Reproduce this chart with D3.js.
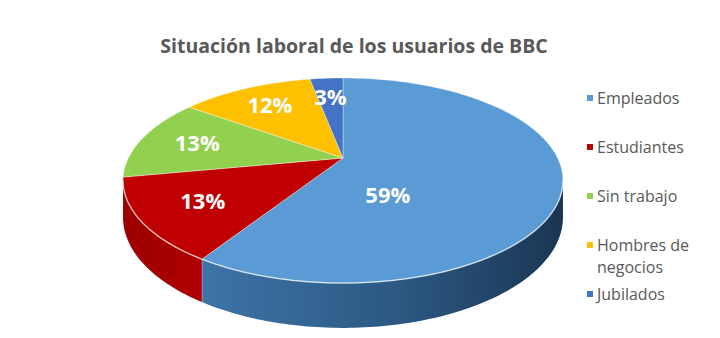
<!DOCTYPE html>
<html>
<head>
<meta charset="utf-8">
<script src="https://cdn.jsdelivr.net/npm/d3@7"></script>
<style>
  body { margin: 0; background: #fff; }
  svg text { font-family: "Open Sans", "DejaVu Sans", sans-serif; }
</style>
</head>
<body>
<svg id="chart"></svg>
<script>
// situacion laboral - pie 3d estilo excel

const categories = ['Empleados', 'Estudiantes', 'Sin trabajo', 'Hombres de negocios', 'Jubilados'];
const values = [59, 13, 13, 12, 3];
const labels = ['59%', '13%', '13%', '12%', '3%'];
const topColors = ['#5B9BD5', '#C00000', '#92D050', '#FFC000', '#4472C4'];
const title = 'Situación laboral de los usuarios de BBC';

const width = 720;
const height = 338;

// geometria del disco en perspectiva
const cx = 343, cy = 158;
const R = 214.6, S = 97.6, k = 0.2195, H = 35;
const toRad = Math.PI / 180;

function project(a, r, h) {
    const u = r * Math.sin(a);
    const v = r * Math.cos(a);
    const w = 1 + k * v;
    return [cx + R * u / w, cy - S * v / w + (h || 0) / w];
}

function arcPoints(a0, a1, r, h) {
    const n = Math.max(2, Math.ceil(Math.abs(a1 - a0) / toRad));
    return d3.range(n + 1).map(i => project(a0 + (a1 - a0) * i / n, r, h));
}

let svg = d3.select('#chart')
    .attr('width', width)
    .attr('height', height);

let defs = svg.append('defs');

let gBlue = defs.append('linearGradient')
    .attr('id', 'sideBlue')
    .attr('gradientUnits', 'userSpaceOnUse')
    .attr('x1', 200).attr('y1', 0).attr('x2', 565).attr('y2', 0);
gBlue.append('stop').attr('offset', '0%').attr('stop-color', '#3E74A8');
gBlue.append('stop').attr('offset', '55%').attr('stop-color', '#2C5882');
gBlue.append('stop').attr('offset', '100%').attr('stop-color', '#1B3553');

let gRed = defs.append('linearGradient')
    .attr('id', 'sideRed')
    .attr('gradientUnits', 'userSpaceOnUse')
    .attr('x1', 120).attr('y1', 0).attr('x2', 210).attr('y2', 0);
gRed.append('stop').attr('offset', '0%').attr('stop-color', '#9C0000');
gRed.append('stop').attr('offset', '100%').attr('stop-color', '#B00000');

const sideFill = ['url(#sideBlue)', 'url(#sideRed)', '#6E9E3C', '#C09000', '#2F5597'];

const pie = d3.pie().sort(null).value(d => d);
const arcs = pie(values);

const line = d3.line();

// paredes laterales visibles (entre los puntos de silueta)
const visA0 = Math.PI - Math.acos(k);
const visA1 = Math.PI + Math.acos(k);

arcs.forEach((d, i) => {
    const a0 = Math.max(d.startAngle, visA0);
    const a1 = Math.min(d.endAngle, visA1);
    if (a1 <= a0) return;
    const topPts = arcPoints(a0, a1, 1, 0);
    const botPts = arcPoints(a1, a0, 1, H);
    svg.append('path')
        .attr('d', line(topPts.concat(botPts)) + 'Z')
        .attr('fill', sideFill[i]);
    // arista vertical clara
    if (d.endAngle < visA1) {
        svg.append('path')
            .attr('d', line([project(d.endAngle, 1, 0), project(d.endAngle, 1, H)]))
            .attr('stroke', 'rgba(255,255,255,0.6)')
            .attr('stroke-width', 1);
    }
});

// caras superiores
arcs.forEach((d, i) => {
    const pts = [project(0, 0, 0)].concat(arcPoints(d.startAngle, d.endAngle, 1, 0));
    svg.append('path')
        .attr('d', line(pts) + 'Z')
        .attr('fill', topColors[i])
        .attr('stroke', 'rgba(255,255,255,0.45)')
        .attr('stroke-width', 0.8)
        .attr('stroke-linejoin', 'round');
});

// brillo del borde frontal
svg.append('path')
    .attr('d', line(arcPoints(visA0, visA1, 1, 0)))
    .attr('fill', 'none')
    .attr('stroke', 'rgba(255,255,255,0.55)')
    .attr('stroke-width', 1.5);

// etiquetas de porcentaje
arcs.forEach((d, i) => {
    let a, r;
    if (d.endAngle - d.startAngle > Math.PI) {
        const s = Math.max(d.startAngle, Math.PI / 2);
        const e = Math.min(d.endAngle, Math.PI * 1.5);
        a = (s + e) / 2;
        r = 0.4;
    } else {
        a = (d.startAngle + d.endAngle) / 2;
        r = 0.72;
    }
    const p = project(a, r, 0);
    svg.append('text')
        .attr('x', p[0])
        .attr('y', p[1])
        .attr('dy', '0.35em')
        .attr('text-anchor', 'middle')
        .attr('fill', '#fff')
        .attr('font-weight', 'bold')
        .attr('font-size', 22)
        .text(labels[i]);
});

// titulo
svg.append('text')
    .attr('x', 354)
    .attr('y', 53)
    .attr('text-anchor', 'middle')
    .attr('fill', '#595959')
    .attr('font-weight', 'bold')
    .attr('font-size', 19.5)
    .text(title);

// leyenda
const legendY = d3.scalePoint().domain(categories).range([98, 294]);
const legendX = 587;
const maxTextW = 118;

categories.forEach((c, i) => {
    const y = legendY(c);
    svg.append('rect')
        .attr('x', legendX)
        .attr('y', y - 3)
        .attr('width', 6)
        .attr('height', 6)
        .attr('fill', topColors[i]);
    let t = svg.append('text')
        .attr('x', legendX + 10)
        .attr('y', y)
        .attr('dy', '0.35em')
        .attr('font-size', 16)
        .attr('fill', '#595959');
    // partir en lineas si no cabe
    const words = c.split(' ');
    let ln = [];
    let ts = t.append('tspan').attr('x', legendX + 10);
    words.forEach(wd => {
        ln.push(wd);
        ts.text(ln.join(' '));
        if (ts.node().getComputedTextLength() > maxTextW && ln.length > 1) {
            ln.pop();
            ts.text(ln.join(' '));
            ln = [wd];
            ts = t.append('tspan').attr('x', legendX + 10).attr('dy', 22).text(wd);
        }
    });
});
</script>
</body>
</html>
